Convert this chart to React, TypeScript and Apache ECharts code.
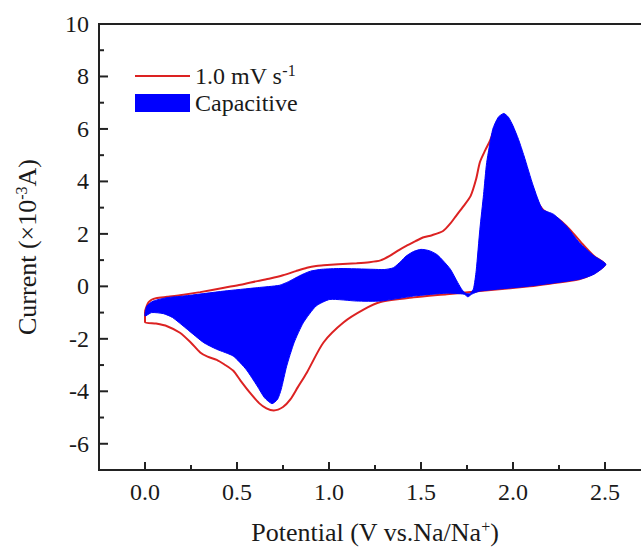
import React, { useEffect, useRef } from "react";
import * as echarts from "echarts";

const FONT = "'Liberation Serif', 'Times New Roman', serif";

const cvName = "1.0 mV s-1";
const capName = "Capacitive";

const xTickValues = [0, 0.5, 1.0, 1.5, 2.0, 2.5];
const xMinorTickValues = [0.25, 0.75, 1.25, 1.75, 2.25];
const yTickValues = [-6, -4, -2, 0, 2, 4, 6, 8, 10];
const yMinorTickValues = [-5, -3, -1, 1, 3, 5, 7, 9];

// CV curve at 1.0 mV/s: anodic (upper) branch, 0 -> 2.5 V
const cvUpperV = [0, 0.02, 0.06, 0.12, 0.21, 0.3, 0.43, 0.52, 0.61, 0.68, 0.75, 0.82, 0.88, 0.93, 0.97, 1.05, 1.15, 1.22, 1.28, 1.33, 1.38, 1.42, 1.47, 1.51, 1.56, 1.62, 1.66, 1.69, 1.73, 1.77, 1.8, 1.82, 1.85, 1.875, 1.9, 1.925, 1.95, 1.975, 2.0, 2.04, 2.08, 2.12, 2.16, 2.2, 2.24, 2.29, 2.33, 2.38, 2.44, 2.5];
const cvUpperI = [-0.95, -0.6, -0.45, -0.4, -0.32, -0.22, -0.05, 0.06, 0.2, 0.3, 0.42, 0.58, 0.71, 0.78, 0.8, 0.84, 0.88, 0.92, 0.99, 1.16, 1.38, 1.54, 1.72, 1.86, 1.95, 2.11, 2.4, 2.68, 3.05, 3.45, 4.1, 4.73, 5.2, 5.55, 6.0, 6.3, 6.4, 6.3, 6.0, 5.2, 4.2, 3.4, 2.94, 2.75, 2.6, 2.3, 2.0, 1.6, 1.16, 0.84];
// cathodic (lower) branch, 2.5 -> 0 V
const cvLowerV = [2.44, 2.36, 2.2, 2.09, 1.82, 1.64, 1.46, 1.28, 1.19, 1.08, 0.97, 0.88, 0.83, 0.79, 0.75, 0.7, 0.66, 0.62, 0.57, 0.52, 0.48, 0.43, 0.39, 0.34, 0.3, 0.25, 0.19, 0.12, 0.06, 0, 0];
const cvLowerI = [0.5, 0.27, 0.1, 0.0, -0.18, -0.3, -0.42, -0.6, -0.88, -1.37, -2.14, -3.28, -3.85, -4.31, -4.6, -4.73, -4.65, -4.45, -4.05, -3.6, -3.22, -2.97, -2.8, -2.68, -2.52, -2.15, -1.77, -1.52, -1.42, -1.36, -0.95];

// Capacitive contribution: upper boundary 0 -> 2.5 V
const capUpperV = [0, 0.01, 0.045, 0.12, 0.21, 0.43, 0.61, 0.73, 0.78, 0.82, 0.86, 0.9, 0.96, 1.06, 1.24, 1.3, 1.35, 1.39, 1.42, 1.46, 1.5, 1.545, 1.585, 1.62, 1.66, 1.7, 1.725, 1.745, 1.765, 1.785, 1.8, 1.82, 1.84, 1.857, 1.89, 1.92, 1.95, 1.975, 2.0, 2.03, 2.06, 2.11, 2.16, 2.22, 2.29, 2.36, 2.44, 2.505];
const capUpperI = [-1.13, -0.75, -0.56, -0.43, -0.37, -0.18, -0.05, 0.04, 0.18, 0.33, 0.47, 0.58, 0.65, 0.68, 0.65, 0.64, 0.71, 0.95, 1.16, 1.33, 1.41, 1.36, 1.22, 0.98, 0.65, 0.14, -0.15, -0.27, -0.28, -0.1, 0.6, 2.18, 3.5, 4.72, 5.99, 6.45, 6.59, 6.45, 6.12, 5.6, 4.97, 3.83, 2.94, 2.75, 2.3, 1.67, 1.16, 0.84];
// lower boundary 2.5 -> 0 V
const capLowerV = [2.44, 2.36, 2.09, 1.82, 1.775, 1.755, 1.735, 1.64, 1.46, 1.28, 1.15, 1.005, 0.93, 0.86, 0.81, 0.77, 0.74, 0.72, 0.69, 0.65, 0.61, 0.55, 0.48, 0.39, 0.32, 0.23, 0.15, 0.1, 0.036];
const capLowerI = [0.46, 0.27, 0.01, -0.18, -0.3, -0.4, -0.3, -0.26, -0.37, -0.56, -0.56, -0.5, -0.75, -1.39, -2.15, -3.04, -3.93, -4.31, -4.47, -4.25, -3.8, -3.17, -2.66, -2.4, -2.15, -1.64, -1.19, -1.04, -1.0];

const X_MIN = -0.25;
const X_MAX = 2.75;
const Y_MIN = -7;
const Y_MAX = 10;

const cvData = [
  ...cvUpperV.map((v, i) => [v, cvUpperI[i]]),
  ...cvLowerV.map((v, i) => [v, cvLowerI[i]]),
];
const capV = [...capUpperV, ...capLowerV];
const capI = [...capUpperI, ...capLowerI];
const capData = capV.map((v, i) => [v, capI[i]]);

const AXIS_COLOR = "#222";
const TEXT_COLOR = "#1a1a1a";
const RED = "#dc2222";
const BLUE = "#0000ff";

const isMajor = (v: number, step: number) => Math.abs(v / step - Math.round(v / step)) < 1e-6;

export default function App() {
  const ref = useRef<HTMLDivElement>(null);

  useEffect(() => {
    if (!ref.current) return;
    const chart = echarts.init(ref.current, null, { renderer: "svg" });
    const supRich = {
      sup: { fontSize: 16, fontFamily: FONT, color: TEXT_COLOR, padding: [0, 0, 12, 0] },
    };
    const tickStyle = { stroke: AXIS_COLOR, lineWidth: 2 };
    chart.setOption({
      animation: false,
      backgroundColor: "#ffffff",
      tooltip: { show: false },
      grid: {
        left: 99,
        top: 24,
        right: 29,
        bottom: 83,
        show: true,
        borderColor: AXIS_COLOR,
        borderWidth: 2,
      },
      legend: {
        left: 130,
        top: 57,
        orient: "vertical",
        itemWidth: 55,
        itemHeight: 18,
        itemGap: 3,
        selectedMode: false,
        textStyle: { fontSize: 24, fontFamily: FONT, color: TEXT_COLOR, rich: supRich },
        formatter: (name: string) => (name === cvName ? "1.0 mV s{sup|-1}" : name),
        data: [
          { name: cvName, icon: "path://M0,0H55V2.2H0Z" },
          { name: capName, icon: "rect" },
        ],
      },
      xAxis: {
        type: "value",
        min: X_MIN,
        max: X_MAX,
        interval: 0.25,
        position: "bottom",
        splitLine: { show: false },
        name: "Potential (V vs.Na/Na{sup|+})",
        nameLocation: "middle",
        nameGap: 48,
        nameTextStyle: { fontSize: 26, fontFamily: FONT, color: TEXT_COLOR, rich: supRich },
        axisLine: { show: true, onZero: false, lineStyle: { color: AXIS_COLOR, width: 2 } },
        axisTick: { show: false },
        axisLabel: {
          show: true,
          formatter: (v: number) => (isMajor(v, 0.5) && v >= 0 && v <= 2.5 ? v.toFixed(1) : ""),
          fontSize: 24,
          fontFamily: FONT,
          color: TEXT_COLOR,
          margin: 10,
        },
      },
      yAxis: {
        type: "value",
        min: Y_MIN,
        max: Y_MAX,
        interval: 1,
        position: "left",
        splitLine: { show: false },
        name: "Current (×10{sup|-3}A)",
        nameLocation: "middle",
        nameRotate: 90,
        nameGap: 58,
        nameTextStyle: { fontSize: 26, fontFamily: FONT, color: TEXT_COLOR, rich: supRich },
        axisLine: { show: true, onZero: false, lineStyle: { color: AXIS_COLOR, width: 2 } },
        axisTick: { show: false },
        axisLabel: {
          show: true,
          formatter: (v: number) => (isMajor(v, 2) ? String(v) : ""),
          fontSize: 24,
          fontFamily: FONT,
          color: TEXT_COLOR,
          margin: 10,
        },
      },
      series: [
        {
          name: cvName,
          type: "line",
          data: cvData,
          showSymbol: false,
          symbol: "none",
          smooth: 0.25,
          color: RED,
          itemStyle: { color: RED },
          lineStyle: { color: RED, width: 2 },
          z: 2,
        },
        {
          name: capName,
          type: "custom",
          data: capData,
          color: BLUE,
          itemStyle: { color: BLUE },
          encode: { x: 0, y: 1 },
          z: 3,
          renderItem: (params: any, api: any) => {
            if (params.dataIndex !== 0) return null;
            const pts = capV.map((v, i) => api.coord([v, capI[i]]));
            return {
              type: "polygon",
              shape: { points: pts, smooth: 0.2 },
              style: { fill: BLUE, stroke: BLUE, lineWidth: 1 },
            };
          },
        },
        {
          name: "axis ticks",
          type: "custom",
          data: [[X_MIN, Y_MIN]],
          encode: { x: 0, y: 1 },
          silent: true,
          z: 10,
          renderItem: (params: any, api: any) => {
            if (params.dataIndex !== 0) return null;
            const children: any[] = [];
            const xTick = (v: number, len: number) => {
              const p = api.coord([v, Y_MIN]);
              children.push({
                type: "line",
                shape: { x1: p[0], y1: p[1], x2: p[0], y2: p[1] - len },
                style: tickStyle,
              });
            };
            const yTick = (v: number, len: number) => {
              const p = api.coord([X_MIN, v]);
              children.push({
                type: "line",
                shape: { x1: p[0], y1: p[1], x2: p[0] + len, y2: p[1] },
                style: tickStyle,
              });
            };
            xTickValues.forEach((v) => xTick(v, 8));
            xMinorTickValues.forEach((v) => xTick(v, 5));
            yTickValues.forEach((v) => yTick(v, 9));
            yMinorTickValues.forEach((v) => yTick(v, 5));
            return { type: "group", children };
          },
        },
      ],
    });
    return () => chart.dispose();
  }, []);

  return (
    <div
      style={{
        position: "fixed",
        left: 0,
        top: 0,
        width: 641,
        height: 553,
        overflow: "hidden",
        background: "#fff",
      }}
    >
      <div ref={ref} style={{ width: 680, height: 553 }} />
    </div>
  );
}
